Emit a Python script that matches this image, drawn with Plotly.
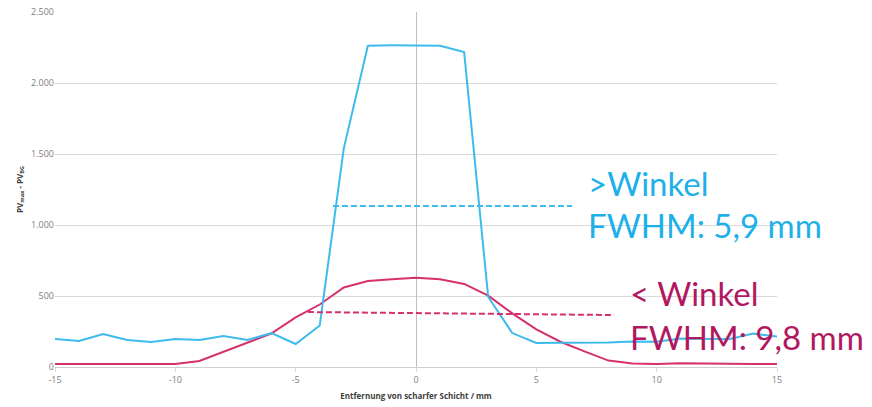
import plotly.graph_objects as go

# ---- data ----
x_mm = list(range(-15, 16))
blue_wide = [197, 183, 232, 190, 176, 197, 190, 218, 190, 239, 162, 292, 1540, 2263, 2265, 2265,
             2262, 2218, 493, 239, 169, 170, 170, 172, 180, 178, 200, 200, 195, 235, 215]
pink_narrow = [21, 21, 23, 21, 25, 21, 42, 108, 171, 237, 350, 440, 560, 606, 618, 629,
               618, 585, 502, 378, 265, 178, 110, 45, 25, 22, 27, 24, 22, 22, 22]
fwhm_blue_x = [-3.45, 6.48]
fwhm_blue_y = [1134, 1134]
fwhm_pink_x = [-4.49, 8.23]
fwhm_pink_y = [387, 366]
y_ticks = [0, 500, 1000, 1500, 2000, 2500]
y_ticklabels = ["0", "500", "1.000", "1.500", "2.000", "2.500"]
x_ticks = [-15, -10, -5, 0, 5, 10, 15]
x_ticklabels = ["-15", "-10", "-5", "0", "5", "10", "15"]

BLUE = "#3DBBEC"
BLUE_TXT = "#1EB0E8"
PINK = "#D6306E"
PINK_TXT = "#B2185F"

fig = go.Figure()
fig.add_trace(go.Scatter(x=x_mm, y=pink_narrow, mode="lines",
                         line=dict(color=PINK, width=2), showlegend=False))
fig.add_trace(go.Scatter(x=x_mm, y=blue_wide, mode="lines",
                         line=dict(color=BLUE, width=2), showlegend=False))
fig.add_trace(go.Scatter(x=fwhm_blue_x, y=fwhm_blue_y, mode="lines",
                         line=dict(color=BLUE, width=2, dash="6px,3px"), showlegend=False))
fig.add_trace(go.Scatter(x=fwhm_pink_x, y=fwhm_pink_y, mode="lines",
                         line=dict(color=PINK, width=2, dash="6px,3px"), showlegend=False))

font_txt = "Lato, Open Sans, sans-serif"
ann = [
    (">Winkel", 586, 183, BLUE_TXT),
    ("FWHM: 5,9 mm", 586, 225, BLUE_TXT),
    ("< Winkel", 628, 293, PINK_TXT),
    ("FWHM: 9,8 mm", 628, 337, PINK_TXT),
]
L, R, T, B = 55, 777, 12, 367
for txt, px, py, col in ann:
    fig.add_annotation(text=txt, xref="paper", yref="paper",
                       x=(px - L) / (R - L), y=(B - py) / (B - T),
                       xanchor="left", yanchor="middle", showarrow=False,
                       font=dict(family=font_txt, size=33, color=col))

fig.update_layout(
    width=872, height=407,
    margin=dict(l=L, r=872 - R, t=T, b=407 - B, autoexpand=False),
    paper_bgcolor="white", plot_bgcolor="white",
    xaxis=dict(range=[-15, 15], tickvals=x_ticks, ticktext=x_ticklabels, automargin=False,
               showgrid=False, zeroline=True, zerolinecolor="#BFBFBF", zerolinewidth=1,
               showline=False, ticks="outside", ticklen=4, tickcolor="#D9D9D9",
               tickfont=dict(family="Open Sans", size=9, color="#808080"),
               title=dict(text="<b>Entfernung von scharfer Schicht / mm</b>", standoff=8,
                          font=dict(family="Open Sans", size=8, color="#404040"))),
    yaxis=dict(range=[0, 2500], tickvals=y_ticks, ticktext=y_ticklabels, automargin=False,
               showgrid=True, gridcolor="#D9D9D9", gridwidth=1,
               zeroline=True, zerolinecolor="#D0D0D0", zerolinewidth=1,
               ticks="", tickfont=dict(family="Open Sans", size=9, color="#808080"),
               title=dict(text="<b>PV<sub>max</sub> - PV<sub>BG</sub></b>", standoff=6,
                          font=dict(family="Open Sans", size=8, color="#404040"))),
)

fig.write_html("out.html", config={"displayModeBar": False},
               post_script="document.body.style.margin='0';document.body.style.overflow='hidden';")
